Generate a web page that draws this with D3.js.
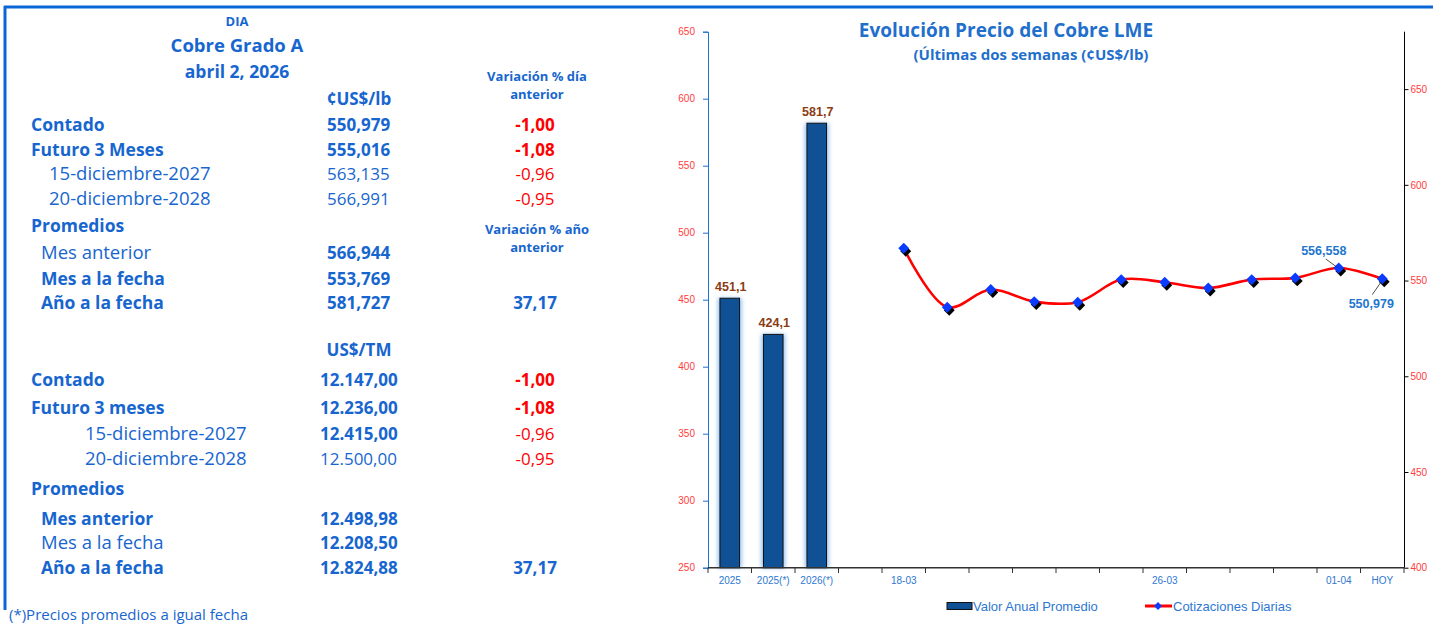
<!DOCTYPE html>
<html><head><meta charset="utf-8">
<script src="https://cdn.jsdelivr.net/npm/d3@7"></script>
<style>body{margin:0;background:#fff}svg{display:block}</style>
</head><body>
<svg id="c" width="1433" height="625"></svg>
<script>
// ---------- DATA ----------
const barCats = ["2025", "2025(*)", "2026(*)"];
const barValues = [451.1, 424.1, 581.7];
const lineCats = ["18-03","19-03","20-03","23-03","24-03","25-03","26-03","27-03","30-03","31-03","01-04","HOY"];
const lineValues = [566.9, 536.1, 545.3, 539.0, 538.7, 550.5, 549.1, 546.1, 550.5, 551.4, 556.558, 550.979];
const shownLabels = ["2025","2025(*)","2026(*)","18-03","26-03","01-04","HOY"];
const leftTicks = [250,300,350,400,450,500,550,600,650];
const rightTicks = [400,450,500,550,600,650];
const labeledPoints = ["01-04","HOY"];

const lbLabels = ["Contado","Futuro 3 Meses","15-diciembre-2027","20-diciembre-2028","Promedios","Mes anterior","Mes a la fecha","Año a la fecha"];
const lbValues = ["550,979","555,016","563,135","566,991","","566,944","553,769","581,727"];
const lbChanges = ["-1,00","-1,08","-0,96","-0,95","","","","37,17"];
const tmLabels = ["Contado","Futuro 3 meses","15-diciembre-2027","20-diciembre-2028","Promedios","Mes anterior","Mes a la fecha","Año a la fecha"];
const tmValues = ["12.147,00","12.236,00","12.415,00","12.500,00","","12.498,98","12.208,50","12.824,88"];
const tmChanges = ["-1,00","-1,08","-0,96","-0,95","","","","37,17"];

// ---------- LAYOUT / STYLE ----------
const svg = d3.select("#c");
const BLUE = "#1766cf", RED = "#ff0000", TFONT = "'Open Sans', sans-serif", CFONT = "'Liberation Sans', Arial, sans-serif";

// frame
svg.append("line").attr("x1",4).attr("x2",1433).attr("y1",7).attr("y2",7).attr("stroke","#0a66d6").attr("stroke-width",3);
svg.append("line").attr("x1",5).attr("x2",5).attr("y1",6).attr("y2",610).attr("stroke","#0a66d6").attr("stroke-width",3);

function txt(x,y,s,opt={}){
  return svg.append("text").attr("x",x).attr("y",y).text(s)
    .attr("font-family",opt.font||TFONT).attr("font-size",opt.size||17)
    .attr("font-weight",opt.bold?"bold":"normal").attr("fill",opt.color||BLUE)
    .attr("text-anchor",opt.anchor||"start");
}
// header
txt(237,26,"DIA",{bold:true,size:13,anchor:"middle"});
txt(237,52,"Cobre Grado A",{bold:true,size:18.5,anchor:"middle"});
txt(237,78,"abril 2, 2026",{bold:true,size:17.5,anchor:"middle"});
txt(537,81,"Variación % día",{bold:true,size:13,anchor:"middle"});
txt(537,99,"anterior",{bold:true,size:13,anchor:"middle"});
txt(359,105,"¢US$/lb",{bold:true,size:17,anchor:"middle"});
txt(537,234,"Variación % año",{bold:true,size:13,anchor:"middle"});
txt(537,252,"anterior",{bold:true,size:13,anchor:"middle"});
txt(359,356,"US$/TM",{bold:true,size:17,anchor:"middle"});

const lbY = [131,156,180,205,232,259,285,309];
const lbX = [31,31,49,49,31,41,41,41];
const lbLBold = [1,1,0,0,1,0,1,1], lbVBold=[1,1,0,0,0,1,1,1], lbCBold=[1,1,0,0,0,0,0,1];
const lbCCol = [RED,RED,RED,RED,RED,RED,RED,BLUE];
lbLabels.forEach((l,i)=>{
  txt(lbX[i],lbY[i],l,{bold:lbLBold[i],size:lbLBold[i]?17.5:18.5});
  if(lbValues[i]) txt(327,lbY[i],lbValues[i],{bold:lbVBold[i]});
  if(lbChanges[i]) txt(535,lbY[i],lbChanges[i],{bold:lbCBold[i],color:lbCCol[i],anchor:"middle"});
});
const tmY = [386,414,440,465,495,525,549,574];
const tmX = [31,31,85,85,31,41,41,41];
const tmLBold=[1,1,0,0,1,1,0,1], tmVBold=[1,1,1,0,0,1,1,1], tmCBold=[1,1,0,0,0,0,0,1];
tmLabels.forEach((l,i)=>{
  txt(tmX[i],tmY[i],l,{bold:tmLBold[i],size:tmLBold[i]?17.5:18.5});
  if(tmValues[i]) txt(320,tmY[i],tmValues[i],{bold:tmVBold[i]});
  if(tmChanges[i]) txt(535,tmY[i],tmChanges[i],{bold:tmCBold[i],color:lbCCol[i],anchor:"middle"});
});
txt(9,620,"(*)Precios promedios a igual fecha",{size:15});

// ---------- CHART ----------
const categories = [...barCats, "", ...lineCats];
const x = d3.scaleBand().domain(d3.range(categories.length)).range([708,1404]).padding(0);
const yL = d3.scaleLinear().domain([250,650]).range([567.7,31.7]);
const yR = d3.scaleLinear().domain([400,680]).range([567.7,31.7]);
const bw = x.bandwidth()*0.45;

const defs = svg.append("defs");
defs.append("filter").attr("id","glow").attr("x","-50%").attr("y","-10%").attr("width","200%").attr("height","120%")
  .append("feGaussianBlur").attr("stdDeviation",2.2);

// titles
txt(1006,37,"Evolución Precio del Cobre LME",{bold:true,size:19,anchor:"middle",color:"#1f6fcc"});
txt(1031,60,"(Últimas dos semanas (¢US$/lb)",{bold:true,size:15,anchor:"middle",color:"#1f6fcc"});

// bars
const bars = svg.append("g");
bars.selectAll(".glow").data(barValues).join("rect")
  .attr("x",(d,i)=>x(i)+x.bandwidth()/2-bw/2-2).attr("y",d=>yL(d))
  .attr("width",bw+4).attr("height",d=>yL(250)-yL(d))
  .attr("fill","#8fbdf0").attr("filter","url(#glow)");
bars.selectAll(".bar").data(barValues).join("rect")
  .attr("x",(d,i)=>x(i)+x.bandwidth()/2-bw/2).attr("y",d=>yL(d))
  .attr("width",bw).attr("height",d=>yL(250)-yL(d))
  .attr("fill","#0f5194").attr("stroke","#111").attr("stroke-width",1);
bars.selectAll(".bl").data(barValues).join("text")
  .attr("x",(d,i)=>x(i)+x.bandwidth()/2+1).attr("y",d=>yL(d)-7)
  .attr("text-anchor","middle").attr("font-family",CFONT).attr("font-weight","bold").attr("font-size",12.5)
  .attr("fill","#8b3c12").text(d=>d3.format(".1f")(d).replace(".",","));

// axes
const gL = svg.append("g").attr("transform","translate(708,0)")
  .call(d3.axisLeft(yL).tickValues(leftTicks).tickSize(5).tickFormat(d3.format("d")));
gL.select(".domain").attr("stroke","#1e6fd0");
gL.selectAll(".tick line").attr("stroke","#1e6fd0");
gL.selectAll("text").attr("fill","#ff3b3b").attr("font-family",CFONT).attr("font-size",10).attr("x",-13);

const gR = svg.append("g").attr("transform","translate(1404.5,0)")
  .call(d3.axisRight(yR).tickValues(rightTicks).tickSize(4).tickFormat(d3.format("d")));
gR.select(".domain").attr("stroke","#000").attr("d","M0,31.7V567.7");
gR.selectAll(".tick line").attr("stroke","#000");
gR.selectAll("text").attr("fill","#ff3b3b").attr("font-family",CFONT).attr("font-size",10).attr("x",6);

// x axis
const gX = svg.append("g");
gX.append("line").attr("x1",708).attr("x2",1405).attr("y1",567.7).attr("y2",567.7).attr("stroke","#333").attr("stroke-width",1.5);
gX.selectAll(".xt").data(d3.range(categories.length+1)).join("line")
  .attr("x1",i=>i<categories.length?x(i):x(categories.length-1)+x.bandwidth())
  .attr("x2",i=>i<categories.length?x(i):x(categories.length-1)+x.bandwidth())
  .attr("y1",567.7).attr("y2",573).attr("stroke","#333");
gX.selectAll(".xl").data(categories.map((c,i)=>({c,i})).filter(d=>shownLabels.includes(d.c))).join("text")
  .attr("x",d=>x(d.i)+x.bandwidth()/2).attr("y",584).attr("text-anchor","middle")
  .attr("font-family",CFONT).attr("font-size",10).attr("fill","#2e78d2").text(d=>d.c);

// line
const pts = lineValues.map((v,i)=>({c:lineCats[i], v, px:x(i+barCats.length+1)+x.bandwidth()/2, py:yR(v)}));
svg.append("path").datum(pts)
  .attr("d",d3.line().x(d=>d.px).y(d=>d.py).curve(d3.curveCatmullRom.alpha(0.5)))
  .attr("fill","none").attr("stroke","#ff0000").attr("stroke-width",2.6);
const diamond = d3.symbol().type(d3.symbolDiamond2).size(76);
svg.selectAll(".sh").data(pts).join("path").attr("d",diamond)
  .attr("transform",d=>`translate(${d.px+2},${d.py+3})`).attr("fill","#000");
svg.selectAll(".mk").data(pts).join("path").attr("d",diamond)
  .attr("transform",d=>`translate(${d.px},${d.py})`).attr("fill","#0a3cff");

// data labels with leader lines
const lp = pts.filter(d=>labeledPoints.includes(d.c));
const a = lp[0], b = lp[1];
svg.append("line").attr("x1",a.px-13).attr("y1",a.py-9).attr("x2",a.px-2).attr("y2",a.py-1).attr("stroke","#222").attr("stroke-width",0.8);
svg.append("text").attr("x",a.px-15).attr("y",a.py-13).attr("text-anchor","middle").attr("font-family",CFONT)
  .attr("font-weight","bold").attr("font-size",12.5).attr("fill","#2277cc").text(d3.format(".3f")(a.v).replace(".",","));
svg.append("line").attr("x1",b.px-1).attr("y1",b.py+3).attr("x2",b.px-10).attr("y2",b.py+16).attr("stroke","#222").attr("stroke-width",0.8);
svg.append("text").attr("x",b.px-11).attr("y",b.py+29).attr("text-anchor","middle").attr("font-family",CFONT)
  .attr("font-weight","bold").attr("font-size",12.5).attr("fill","#2277cc").text(d3.format(".3f")(b.v).replace(".",","));

// legend
svg.append("rect").attr("x",947).attr("y",602.5).attr("width",25).attr("height",7).attr("fill","#0f5194").attr("stroke","#111");
txt(973,611,"Valor Anual Promedio",{font:CFONT,size:13,color:"#2e78d2"});
svg.append("line").attr("x1",1145).attr("x2",1172).attr("y1",606).attr("y2",606).attr("stroke","#ff0000").attr("stroke-width",3);
svg.append("path").attr("d",d3.symbol().type(d3.symbolDiamond2).size(40)).attr("transform","translate(1158,606)").attr("fill","#0a3cff");
txt(1173,611,"Cotizaciones Diarias",{font:CFONT,size:13,color:"#2e78d2"});
</script>
</body></html>
